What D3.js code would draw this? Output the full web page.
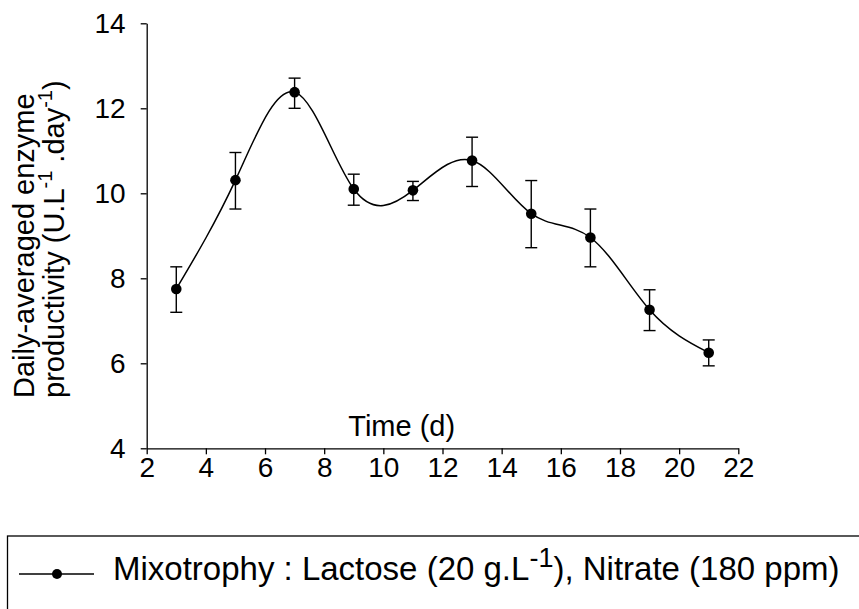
<!DOCTYPE html>
<html>
<head>
<meta charset="utf-8">
<script src="https://cdn.jsdelivr.net/npm/d3@7"></script>
<style>
  body { margin: 0; background: #fff; }
  svg { display: block; font-family: "Liberation Sans", Arial, sans-serif; }
</style>
</head>
<body>
<div id="chart"></div>
<script>
// data
const days = [3, 5, 7, 9, 11, 13, 15, 17, 19, 21];
const productivity = [7.75, 10.31, 12.38, 10.10, 10.07, 10.77, 9.52, 8.96, 7.26, 6.25];
const errLow = [7.20, 9.63, 12.00, 9.72, 9.83, 10.16, 8.72, 8.27, 6.77, 5.94];
const errHigh = [8.27, 10.96, 12.71, 10.45, 10.28, 11.32, 10.30, 9.63, 7.73, 6.55];
const xTicks = [2, 4, 6, 8, 10, 12, 14, 16, 18, 20, 22];
const yTicks = [4, 6, 8, 10, 12, 14];

const width = 859;
const height = 609;
const margin = {top: 23.3, right: 120.7, bottom: 160.7, left: 146.7};

const svg = d3.select("#chart").append("svg")
  .attr("width", width)
  .attr("height", height);

const x = d3.scaleLinear()
  .domain([2, 22])
  .range([margin.left, width - margin.right]);

const y = d3.scaleLinear()
  .domain([4, 14])
  .range([height - margin.bottom, margin.top]);

const points = days.map((d, i) => ({day: d, value: productivity[i], lo: errLow[i], hi: errHigh[i]}));

// axes
const xAxis = g => g
  .attr("transform", `translate(0,${y(4)})`)
  .call(d3.axisBottom(x).tickValues(xTicks).tickSize(6).tickPadding(3).tickSizeOuter(0))
  .call(g => g.selectAll("path, line").attr("stroke", "#000").attr("stroke-width", 1.3))
  .call(g => g.selectAll("text").attr("font-size", 28).attr("fill", "#000"));

const yAxis = g => g
  .attr("transform", `translate(${x(2)},0)`)
  .call(d3.axisLeft(y).tickValues(yTicks).tickSize(6).tickPadding(15).tickSizeOuter(0))
  .call(g => g.selectAll("path, line").attr("stroke", "#000").attr("stroke-width", 1.3))
  .call(g => g.selectAll("text").attr("font-size", 28).attr("fill", "#000"));

svg.append("g").call(xAxis).attr("font-family", null);
svg.append("g").call(yAxis).attr("font-family", null);

// axis titles
svg.append("text")
  .attr("x", 401.7)
  .attr("y", 436)
  .attr("text-anchor", "middle")
  .attr("font-size", 29)
  .text("Time (d)");

const yTitle = svg.append("g")
  .attr("transform", "translate(0,398) rotate(-90)")
  .attr("font-size", 29);

yTitle.append("text")
  .attr("x", 0)
  .attr("y", 34)
  .text("Daily-averaged enzyme");

const line2 = yTitle.append("text")
  .attr("x", 0)
  .attr("y", 64);
line2.append("tspan").text("productivity (U.L");
line2.append("tspan").attr("dy", -12).attr("font-size", 20).text("-1");
line2.append("tspan").attr("dy", 12).text(" .day");
line2.append("tspan").attr("dy", -12).attr("font-size", 20).text("-1");
line2.append("tspan").attr("dy", 12).text(")");

// smooth line
const line = d3.line()
  .x(d => x(d.day))
  .y(d => y(d.value))
  .curve(d3.curveNatural);

svg.append("path")
  .datum(points)
  .attr("fill", "none")
  .attr("stroke", "#000")
  .attr("stroke-width", 1.5)
  .attr("d", line);

// error bars
const bars = svg.append("g")
  .attr("stroke", "#000")
  .attr("stroke-width", 1.4);

bars.selectAll(".stem")
  .data(points)
  .join("line")
    .attr("x1", d => x(d.day))
    .attr("x2", d => x(d.day))
    .attr("y1", d => y(d.lo))
    .attr("y2", d => y(d.hi));

bars.selectAll(".capHi")
  .data(points)
  .join("line")
    .attr("class", "capHi")
    .attr("x1", d => x(d.day) - 6)
    .attr("x2", d => x(d.day) + 6)
    .attr("y1", d => y(d.hi))
    .attr("y2", d => y(d.hi));

bars.selectAll(".capLo")
  .data(points)
  .join("line")
    .attr("class", "capLo")
    .attr("x1", d => x(d.day) - 6)
    .attr("x2", d => x(d.day) + 6)
    .attr("y1", d => y(d.lo))
    .attr("y2", d => y(d.lo));

// markers
svg.append("g")
  .selectAll("circle")
  .data(points)
  .join("circle")
    .attr("cx", d => x(d.day))
    .attr("cy", d => y(d.value))
    .attr("r", 5.3)
    .attr("fill", "#000");

// legend
const legend = svg.append("g");

legend.append("rect")
  .attr("x", 7.5)
  .attr("y", 536)
  .attr("width", 900)
  .attr("height", 120)
  .attr("fill", "none")
  .attr("stroke", "#000")
  .attr("stroke-width", 1.3);

legend.append("line")
  .attr("x1", 19)
  .attr("x2", 94)
  .attr("y1", 574)
  .attr("y2", 574)
  .attr("stroke", "#000")
  .attr("stroke-width", 1.3);

legend.append("circle")
  .attr("cx", 57)
  .attr("cy", 574)
  .attr("r", 5)
  .attr("fill", "#000");

const legendText = legend.append("text")
  .attr("x", 113)
  .attr("y", 580)
  .attr("font-size", 33);
legendText.append("tspan").text("Mixotrophy : Lactose (20 g.L");
legendText.append("tspan").attr("dy", -13).attr("font-size", 27).text("-1");
legendText.append("tspan").attr("dy", 13).text("), Nitrate (180 ppm)");
</script>
</body>
</html>
